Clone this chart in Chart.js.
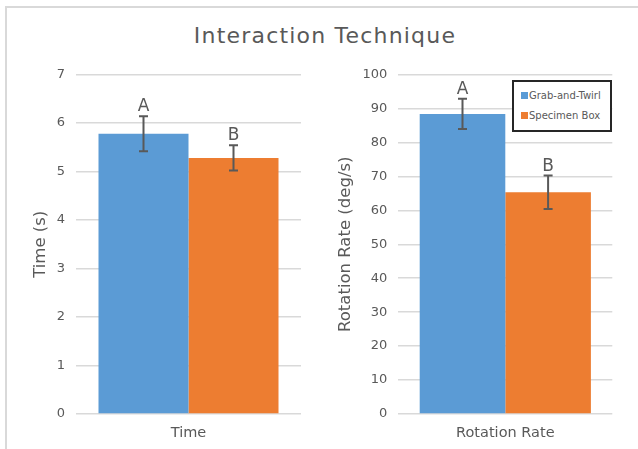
<!DOCTYPE html>
<html lang="en">
<head>
  <meta charset="UTF-8" />
  <title>Interaction Technique</title>
  <script src="https://cdn.jsdelivr.net/npm/chart.js"></script>
  <style>
    body {
      margin: 0;
      width: 638px;
      height: 449px;
      overflow: hidden;
      background: #ffffff;
      font-family: 'DejaVu Sans', Verdana, sans-serif;
      position: relative;
    }

    .frame {
      position: absolute;
      left: 5px;
      top: 6px;
      width: 700px;
      height: 500px;
      border: 2px solid #d9d9d9;
    }

    h1 {
      position: absolute;
      left: 0;
      width: 650px;
      top: 23px;
      margin: 0;
      text-align: center;
      font-size: 22px;
      font-weight: normal;
      letter-spacing: 1.2px;
      color: #595959;
    }

    canvas {
      position: absolute;
      top: 60px;
    }

    #timeChart { left: 10px; }
    #rateChart { left: 320px; }

    .legend {
      position: absolute;
      left: 512px;
      top: 80px;
      width: 96px;
      height: 48px;
      border: 2px solid #262626;
      background: #ffffff;
      font-size: 10px;
      color: #595959;
    }

    .legend div {
      position: absolute;
      left: 7px;
      height: 12px;
      line-height: 12px;
      white-space: nowrap;
    }

    .legend span {
      display: inline-block;
      width: 7px;
      height: 7px;
      margin-right: 1px;
      vertical-align: 0px;
    }
  </style>
</head>
<body>
  <div class="frame"></div>
  <h1>Interaction Technique</h1>
  <canvas id="timeChart" width="310" height="389"></canvas>
  <canvas id="rateChart" width="310" height="389"></canvas>
  <div class="legend" id="legend"></div>

  <script>
    // data
    const series = ['Grab-and-Twirl', 'Specimen Box'];
    const seriesColors = ['#5b9bd5', '#ed7d31'];
    const groupLetters = ['A', 'B'];

    const timeCategory = ['Time'];
    const timeMeans = [5.78, 5.28];
    const timeErrors = [0.36, 0.26];
    const timeTicks = { min: 0, max: 7, step: 1 };

    const rateCategory = ['Rotation Rate'];
    const rateMeans = [88.4, 65.3];
    const rateErrors = [4.45, 4.95];
    const rateTicks = { min: 0, max: 100, step: 10 };

    Chart.defaults.font.family = "'DejaVu Sans', Verdana, sans-serif";
    Chart.defaults.color = '#595959';

    // error bars + significance letters
    const errorBars = {
      id: 'errorBars',
      afterDatasetsDraw(chart) {
        const ctx = chart.ctx;
        const y = chart.scales.y;
        chart.data.datasets.forEach((ds, i) => {
          const meta = chart.getDatasetMeta(i);
          meta.data.forEach((bar, j) => {
            const v = ds.data[j];
            const e = ds.errors[j];
            const top = y.getPixelForValue(v + e);
            const bottom = y.getPixelForValue(v - e);
            ctx.save();
            ctx.strokeStyle = '#595959';
            ctx.lineWidth = 2;
            ctx.beginPath();
            ctx.moveTo(bar.x, top);
            ctx.lineTo(bar.x, bottom);
            ctx.moveTo(bar.x - 4.5, top);
            ctx.lineTo(bar.x + 4.5, top);
            ctx.moveTo(bar.x - 4.5, bottom);
            ctx.lineTo(bar.x + 4.5, bottom);
            ctx.stroke();
            ctx.fillStyle = '#595959';
            ctx.font = "17px 'DejaVu Sans', Verdana, sans-serif";
            ctx.textAlign = 'center';
            ctx.textBaseline = 'alphabetic';
            ctx.fillText(ds.letter, bar.x, top - 5);
            ctx.restore();
          });
        });
      }
    };

    function makeChart(id, labels, means, errors, ticks, yTitle, yWidth, titlePad, rightPad) {
      return new Chart(document.getElementById(id), {
        type: 'bar',
        data: {
          labels: labels,
          datasets: series.map((s, i) => ({
            label: s,
            data: [means[i]],
            errors: [errors[i]],
            letter: groupLetters[i],
            backgroundColor: seriesColors[i],
            categoryPercentage: 0.8,
            barPercentage: 1
          }))
        },
        options: {
          responsive: false,
          animation: false,
          layout: { padding: { top: 14.5, right: rightPad, bottom: 0, left: 0 } },
          plugins: {
            legend: { display: false },
            tooltip: { enabled: false }
          },
          scales: {
            x: {
              grid: { display: false, drawTicks: false },
              border: { display: false },
              ticks: { font: { size: 14.5 }, padding: 10.5 },
              afterFit(scale) { scale.height = 35; }
            },
            y: {
              min: ticks.min,
              max: ticks.max,
              ticks: { stepSize: ticks.step, font: { size: 13 }, padding: 11 },
              grid: { color: '#d9d9d9', lineWidth: 1.5, drawTicks: false },
              border: { display: false },
              title: {
                display: true,
                text: yTitle,
                font: { size: 16.5 },
                padding: { top: titlePad, bottom: 0 }
              },
              afterFit(scale) {
                scale.width = yWidth;
                scale.paddingTop = 0;
                scale.paddingBottom = 0;
              }
            }
          }
        },
        plugins: [errorBars]
      });
    }

    makeChart('timeChart', timeCategory, timeMeans, timeErrors, timeTicks, 'Time (s)', 66, 21, 19);
    makeChart('rateChart', rateCategory, rateMeans, rateErrors, rateTicks, 'Rotation Rate (deg/s)', 78.3, 15.6, 17.7);

    // legend box
    const legend = document.getElementById('legend');
    series.forEach((s, i) => {
      const row = document.createElement('div');
      row.style.top = (8 + i * 20) + 'px';
      row.innerHTML = '<span style="background:' + seriesColors[i] + '"></span>' + s;
      legend.appendChild(row);
    });
  </script>
</body>
</html>
